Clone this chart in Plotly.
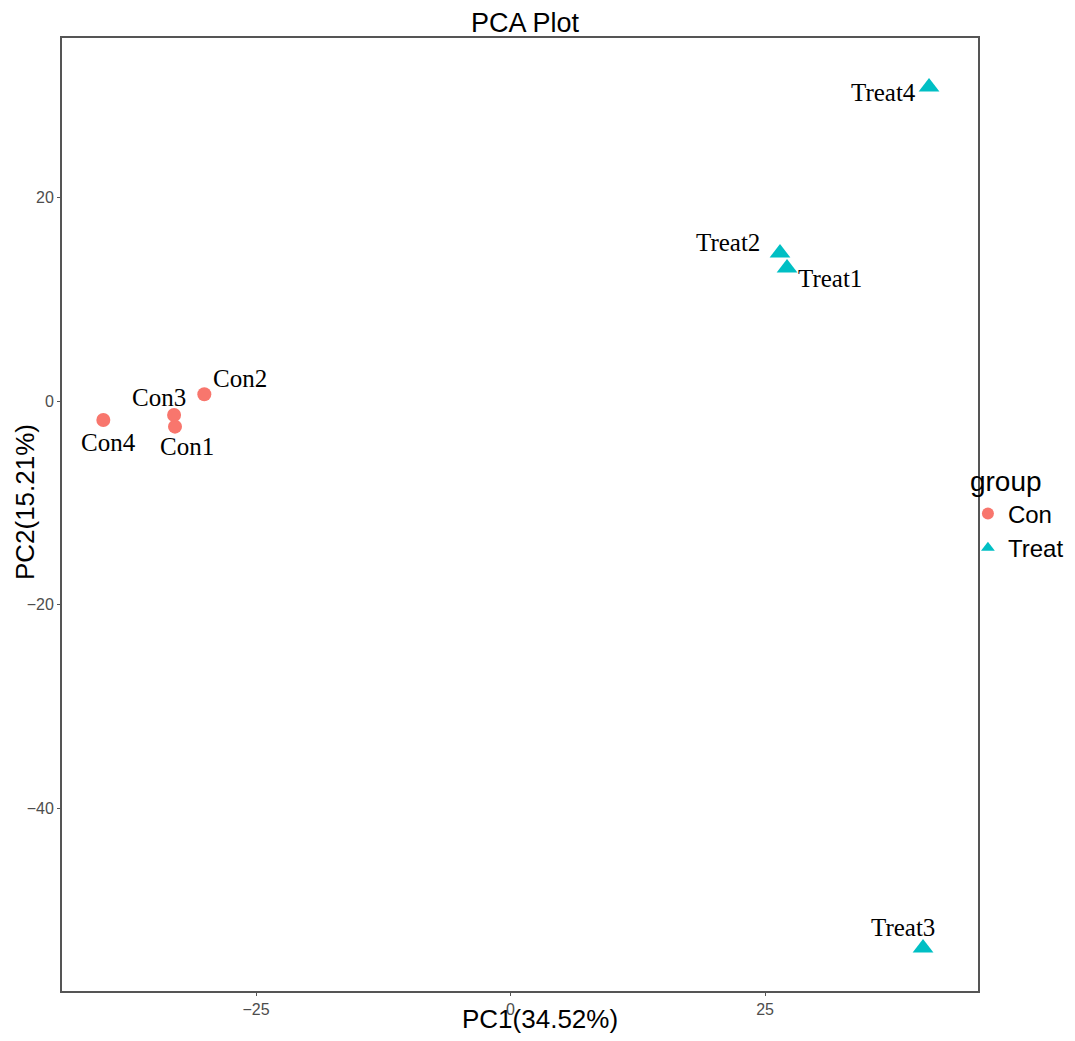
import plotly.graph_objects as go

# ---- data ----
samples = ["Con1", "Con2", "Con3", "Con4", "Treat1", "Treat2", "Treat3", "Treat4"]
groups = ["Con", "Con", "Con", "Con", "Treat", "Treat", "Treat", "Treat"]
pc1 = [-32.96, -30.08, -33.05, -40.0, 27.16, 26.47, 40.52, 41.11]
pc2 = [-2.52, 0.66, -1.38, -1.87, 13.06, 14.54, -53.73, 30.84]
x_ticks = [-25, 0, 25]
y_ticks = [-40, -20, 0, 20]

# ---- styling ----
colors = {"Con": "#F8766D", "Treat": "#00BFC4"}
symbols = {"Con": "circle", "Treat": "triangle-up"}
msize = {"Con": 14, "Treat": 18}
label_shift = {
    "Con1": (12, -20), "Con2": (36, 16), "Con3": (-15, 18), "Con4": (5, -22),
    "Treat1": (43, -10), "Treat2": (-52, 10), "Treat3": (-20, 20), "Treat4": (-46, -5),
}
sans = "Liberation Sans"
W, H = 1059, 1025  # page body adds an 8px margin on every side

fig = go.Figure()
for g in ["Con", "Treat"]:
    xs = [x for x, gg in zip(pc1, groups) if gg == g]
    ys = [y for y, gg in zip(pc2, groups) if gg == g]
    fig.add_trace(go.Scatter(
        x=xs, y=ys, mode="markers", name=g,
        marker=dict(color=colors[g], symbol=symbols[g], size=msize[g], line=dict(width=0)),
    ))

for s, x, y in zip(samples, pc1, pc2):
    dx, dy = label_shift[s]
    fig.add_annotation(x=x, y=y, text=s, showarrow=False, xshift=dx, yshift=dy,
                       font=dict(family="Liberation Serif", size=25, color="black"))

# axis titles
fig.add_annotation(text="PC1(34.52%)", xref="paper", yref="paper", x=0.522, y=0,
                   xanchor="center", yanchor="middle", yshift=-28, showarrow=False,
                   font=dict(family=sans, size=26, color="black"))
fig.add_annotation(text="PC2(15.21%)", xref="paper", yref="paper", x=0, y=0.513,
                   xanchor="center", yanchor="middle", xshift=-37, textangle=-90,
                   showarrow=False, font=dict(family=sans, size=26, color="black"))

axis_common = dict(
    showgrid=False, zeroline=False, showline=True, linecolor="#555555", linewidth=1.8,
    mirror=True, ticks="outside", ticklen=3, tickcolor="#555555", tickwidth=1,
    tickfont=dict(family=sans, size=16, color="#4D4D4D"), automargin=False,
)

fig.update_layout(
    width=W, height=H,
    margin=dict(l=54, r=89, t=30, b=42, autoexpand=False),
    plot_bgcolor="white", paper_bgcolor="white",
    title=dict(text="PCA Plot", x=517 / W, xref="container", xanchor="center",
               y=1 - 15 / H, yref="container", yanchor="middle",
               font=dict(family=sans, size=27, color="black")),
    xaxis=dict(range=[-44.06, 45.92], tickvals=x_ticks, **axis_common),
    yaxis=dict(range=[-57.96, 35.66], tickvals=y_ticks, **axis_common),
    legend=dict(title=dict(text="group", font=dict(family=sans, size=28, color="black")),
                font=dict(family=sans, size=24, color="black"),
                xref="paper", yref="paper",
                x=0.989, xanchor="left", y=0.502, yanchor="middle",
                bgcolor="rgba(0,0,0,0)", itemsizing="constant", tracegroupgap=0),
    showlegend=True,
)

fig.write_html("out.html")
